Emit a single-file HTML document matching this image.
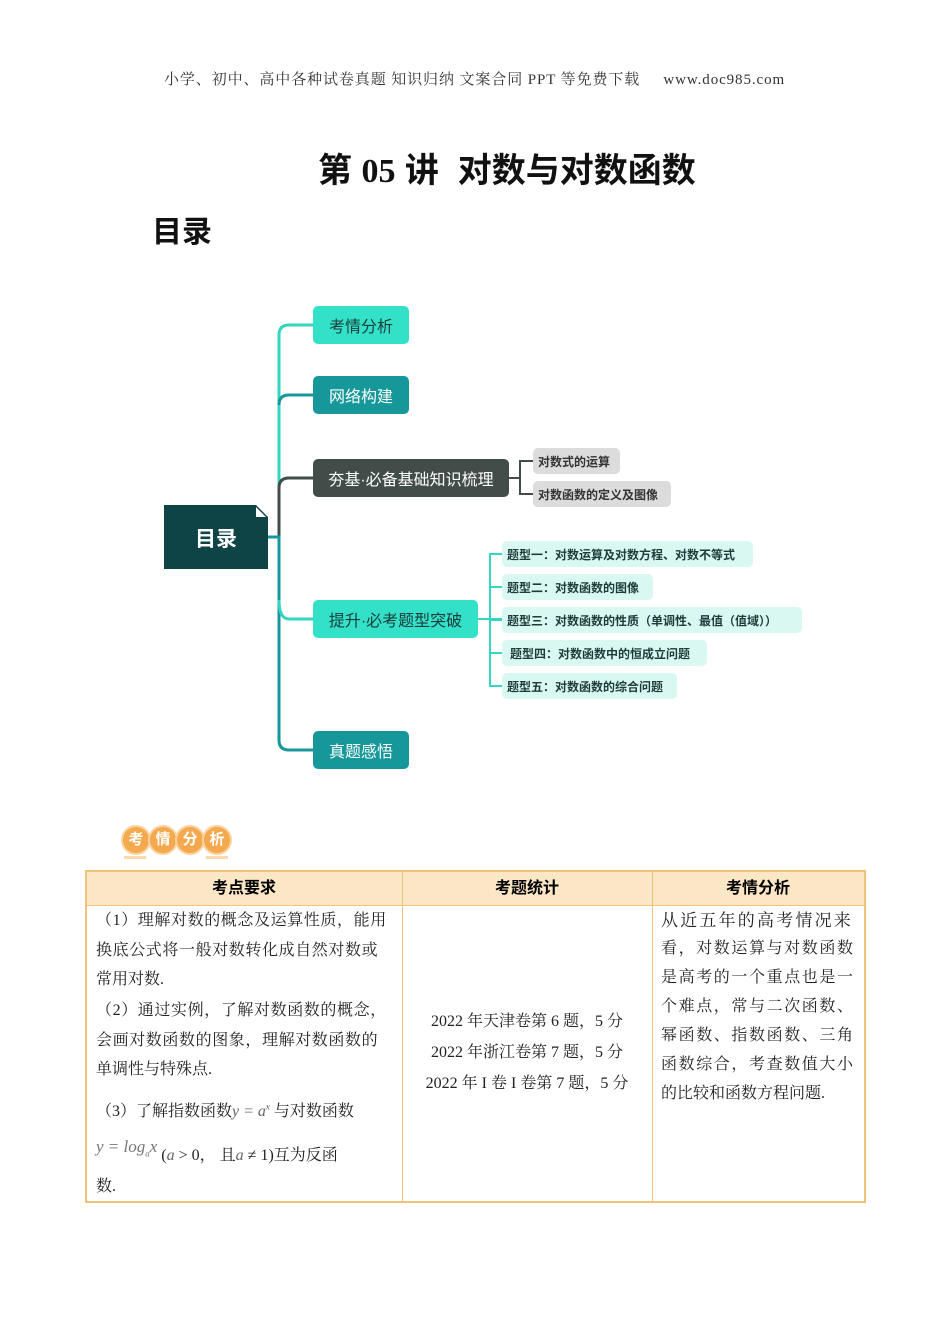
<!DOCTYPE html>
<html><head><meta charset="utf-8"><style>
body{margin:0;width:950px;height:1344px;background:#fff;position:relative;overflow:hidden;font-family:"Liberation Serif","Noto Serif CJK SC",serif;}
.a{position:absolute;white-space:nowrap;}
.s{font-family:"Liberation Sans","Noto Sans CJK SC",sans-serif;}
.box{position:absolute;border-radius:5px;color:#fff;font-family:"Liberation Sans","Noto Sans CJK SC",sans-serif;font-size:16px;display:flex;align-items:center;justify-content:center;}
.sub{position:absolute;border-radius:5px;font-family:"Liberation Sans","Noto Sans CJK SC",sans-serif;font-size:12px;font-weight:bold;display:flex;align-items:center;padding-left:5px;box-sizing:border-box;}
.t{font-size:16px;color:#222;}
.c{width:26px;height:26px;border-radius:50%;background:#f4a94e;border:2px solid #fbd3a0;color:#fff;font-weight:bold;font-size:15px;text-align:center;line-height:26px;margin-right:-3px}
</style></head><body>
<div class="a" style="left:164px;top:68px;font-size:15px;color:#333;letter-spacing:0.9px;">小学、初中、高中各种试卷真题 知识归纳 文案合同 PPT 等免费下载&nbsp;&nbsp;&nbsp;&nbsp; www.doc985.com</div>
<div class="a s" style="left:318px;top:143px;font-size:34px;font-weight:bold;color:#111;">第 <span style="font-family:'Liberation Serif',serif">05</span> 讲&nbsp; 对数与对数函数</div>
<div class="a s" style="left:152px;top:207px;font-size:30px;font-weight:bold;color:#111;">目录</div>

<svg class="a" style="left:0;top:0" width="950" height="800">
<path d="M313 325 H289 Q279 325 279 335 V535" fill="none" stroke="#33d6c0" stroke-width="3"/>
<path d="M313 395 H289 Q279 395 279 405" fill="none" stroke="#17979a" stroke-width="3"/>
<path d="M313 478 H289 Q279 478 279 488 V537" fill="none" stroke="#424d4a" stroke-width="3"/>
<path d="M268 537 H279 V740 Q279 750 289 750 H313" fill="none" stroke="#17979a" stroke-width="3"/>
<path d="M279 600 Q279 619 289 619 H313" fill="none" stroke="#33d6c0" stroke-width="3"/>
<path d="M509 478 H520 M533 461 H520 V494 H533" fill="none" stroke="#424d4a" stroke-width="2"/>
<path d="M478 619 H502 M502 554 H490 V686 H502 M490 587 H502 M490 620 H502 M490 653 H502" fill="none" stroke="#33d6c0" stroke-width="2"/>
<path d="M164 505 H256 L268 517 V569 H164 Z" fill="#0f4446"/>
<path d="M256 507 L266 517 H256 Z" fill="#fff"/>
</svg>
<div class="a s" style="left:164px;top:523px;width:104px;text-align:center;font-size:21px;font-weight:bold;color:#fff;">目录</div>
<div class="box" style="left:313px;top:306px;width:96px;height:38px;background:#33e0c8;color:#1d3b3a;">考情分析</div>
<div class="box" style="left:313px;top:376px;width:96px;height:38px;background:#16979a;">网络构建</div>
<div class="box" style="left:313px;top:459px;width:196px;height:38px;background:#424d4a;">夯基·必备基础知识梳理</div>
<div class="box" style="left:313px;top:600px;width:165px;height:38px;background:#33e0c8;color:#1d3b3a;">提升·必考题型突破</div>
<div class="box" style="left:313px;top:731px;width:96px;height:38px;background:#16979a;">真题感悟</div>
<div class="sub" style="left:533px;top:448px;width:87px;height:26px;background:#dcdcdc;color:#333;">对数式的运算</div>
<div class="sub" style="left:533px;top:481px;width:138px;height:26px;background:#dcdcdc;color:#333;">对数函数的定义及图像</div>
<div class="sub" style="left:502px;top:541px;width:251px;height:26px;background:#d8f8f1;color:#1d3b3a;">题型一：对数运算及对数方程、对数不等式</div>
<div class="sub" style="left:502px;top:574px;width:151px;height:26px;background:#d8f8f1;color:#1d3b3a;">题型二：对数函数的图像</div>
<div class="sub" style="left:502px;top:607px;width:300px;height:26px;background:#d8f8f1;color:#1d3b3a;">题型三：对数函数的性质（单调性、最值（值域））</div>
<div class="sub" style="left:502px;top:640px;width:205px;height:26px;background:#d8f8f1;color:#1d3b3a;padding-left:8px;">题型四：对数函数中的恒成立问题</div>
<div class="sub" style="left:502px;top:673px;width:175px;height:26px;background:#d8f8f1;color:#1d3b3a;">题型五：对数函数的综合问题</div>

<div class="a" style="left:124px;top:856px;width:22px;height:3px;background:#f8d9b0"></div>
<div class="a" style="left:206px;top:856px;width:22px;height:3px;background:#f8d9b0"></div>
<div class="a s" style="left:121px;top:825px;display:flex;">
<span class="c">考</span><span class="c">情</span><span class="c">分</span><span class="c" style="margin-right:0">析</span>
</div>

<div class="a" style="left:86px;top:871px;width:778px;height:34px;background:#fbe6c6;"></div>
<div class="a" style="left:85px;top:870px;width:777px;height:329px;border:2px solid #f0c27a;"></div>
<div class="a" style="left:86px;top:905px;width:778px;height:1px;background:#f0c27a;"></div>
<div class="a" style="left:402px;top:871px;width:1px;height:330px;background:#f0c27a;"></div>
<div class="a" style="left:652px;top:871px;width:1px;height:330px;background:#f0c27a;"></div>
<div class="a s" style="left:86px;top:874px;width:316px;text-align:center;font-size:16px;font-weight:bold;">考点要求</div>
<div class="a s" style="left:402px;top:874px;width:250px;text-align:center;font-size:16px;font-weight:bold;">考题统计</div>
<div class="a s" style="left:652px;top:874px;width:212px;text-align:center;font-size:16px;font-weight:bold;">考情分析</div>

<div class="a t" style="left:96px;top:907px;letter-spacing:0.6px;">（1）理解对数的概念及运算性质，能用</div>
<div class="a t" style="left:96px;top:937px;letter-spacing:0.6px;">换底公式将一般对数转化成自然对数或</div>
<div class="a t" style="left:96px;top:966px;">常用对数.</div>
<div class="a t" style="left:96px;top:997px;letter-spacing:0.6px;">（2）通过实例，了解对数函数的概念，</div>
<div class="a t" style="left:96px;top:1027px;letter-spacing:0.6px;">会画对数函数的图象，理解对数函数的</div>
<div class="a t" style="left:96px;top:1056px;">单调性与特殊点.</div>
<div class="a t" style="left:96px;top:1098px;">（3）了解指数函数<i style="color:#666">y = a<sup style="font-size:9px">x</sup></i> 与对数函数</div>
<div class="a t" style="left:96px;top:1134px;"><i style="color:#777;font-size:17px">y = log<sub style="font-size:9px">a</sub>x</i> <span style="position:relative;top:8px">(<i style="color:#666">a</i> &gt; 0， 且<i style="color:#666">a</i> ≠ 1)互为反函</span></div>
<div class="a t" style="left:96px;top:1173px;">数.</div>

<div class="a t" style="left:402px;top:1008px;width:250px;text-align:center;">2022 年天津卷第 6 题，5 分</div>
<div class="a t" style="left:402px;top:1039px;width:250px;text-align:center;">2022 年浙江卷第 7 题，5 分</div>
<div class="a t" style="left:402px;top:1070px;width:250px;text-align:center;">2022 年 I 卷 I 卷第 7 题，5 分</div>

<div class="a t" style="left:661px;top:906px;font-size:17px;letter-spacing:2.2px;">从近五年的高考情况来</div>
<div class="a t" style="left:661px;top:935px;letter-spacing:1.6px;">看，对数运算与对数函数</div>
<div class="a t" style="left:661px;top:964px;letter-spacing:1.6px;">是高考的一个重点也是一</div>
<div class="a t" style="left:661px;top:993px;letter-spacing:1.6px;">个难点，常与二次函数、</div>
<div class="a t" style="left:661px;top:1022px;letter-spacing:1.6px;">幂函数、指数函数、三角</div>
<div class="a t" style="left:661px;top:1051px;letter-spacing:1.6px;">函数综合，考查数值大小</div>
<div class="a t" style="left:661px;top:1080px;">的比较和函数方程问题.</div>
</body></html>
